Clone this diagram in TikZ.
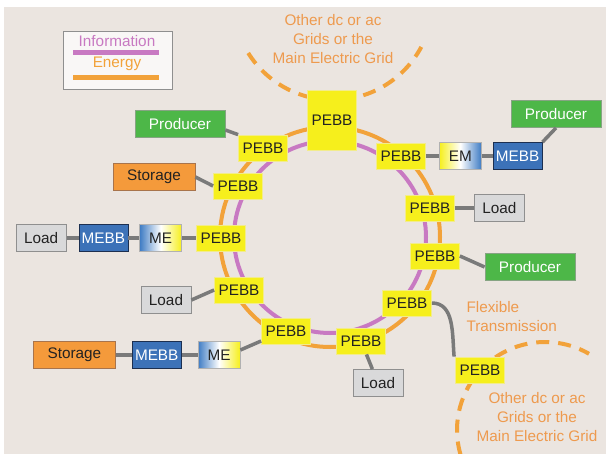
\documentclass[tikz,border=0pt]{standalone}
\usepackage{fontspec}
\setmainfont{Liberation Sans}
\usepackage{xcolor}
\usepackage{tikz}
\usetikzlibrary{shapes,arrows.meta,positioning,calc}

\definecolor{bgbeige}{HTML}{EBE5E0}
\definecolor{pebbfill}{HTML}{F6EF1C}
\definecolor{pebbline}{HTML}{F2EC8C}
\definecolor{prodgreen}{HTML}{4DB748}
\definecolor{prodline}{HTML}{86A483}
\definecolor{storfill}{HTML}{F49A3B}
\definecolor{storline}{HTML}{A8744C}
\definecolor{loadfill}{HTML}{D9D9DA}
\definecolor{loadline}{HTML}{8F8F8F}
\definecolor{mebbfill}{HTML}{3C72B8}
\definecolor{mebbline}{HTML}{1C2F50}
\definecolor{gradblue}{HTML}{3F7CC4}
\definecolor{ringorange}{HTML}{F2A23A}
\definecolor{ringpurple}{HTML}{C879C2}
\definecolor{txtorange}{HTML}{EE9A4E}
\definecolor{txtdark}{HTML}{222222}
\definecolor{linkgray}{HTML}{7A7A7A}

\begin{document}
\begin{tikzpicture}[
    x=1pt, y=-1pt,
    node distance=12pt,
    font=\fontsize{15.3}{19}\selectfont,
    box/.style={rectangle, inner sep=0pt, align=center, line width=0.8pt},
    pebb/.style={box, draw=pebbline, fill=pebbfill, text=txtdark, minimum width=49pt, minimum height=26pt},
    bigpebb/.style={pebb, minimum height=60pt},
    producer/.style={box, draw=prodline, fill=prodgreen, text=white, minimum width=90pt, minimum height=27pt},
    storage/.style={box, draw=storline, fill=storfill, text=txtdark, minimum width=82pt, minimum height=27pt},
    loadbox/.style={box, draw=loadline, fill=loadfill, text=txtdark, minimum width=50pt, minimum height=27pt},
    mebb/.style={box, draw=mebbline, fill=mebbfill, text=white, minimum width=49pt, minimum height=27pt},
    emgrad/.style={box, draw=loadline!70, left color=pebbfill, right color=gradblue, middle color=white, text=txtdark, minimum width=42pt, minimum height=27pt},
    megrad/.style={box, draw=loadline!70, left color=gradblue, right color=pebbfill, middle color=white, text=txtdark, minimum width=42pt, minimum height=27pt},
    link/.style={draw=linkgray, line width=3.5pt},
    gridline/.style={draw=ringorange, line width=4pt, dash pattern=on 13pt off 9pt},
    gridtext/.style={text=txtorange, align=center}
]
    % background
    \fill[white] (0,0) rectangle (610,454);
    \fill[bgbeige] (4,7) rectangle (606,454);
    \useasboundingbox (0,0) rectangle (610,454);

    % other grids
    \draw[gridline] plot[domain=148:28, samples=60] ({333+100*cos(\x)}, {100*sin(\x)});
    \draw[gridline] plot[domain=164:300, samples=60] ({545+88*cos(\x)}, {430+88*sin(\x)});
    \node[gridtext] (gridtop) at (333,39) {Other dc or ac\\Grids or the\\Main Electric Grid};
    \node[gridtext] (gridbot) at (537,417) {Other dc or ac\\Grids or the\\Main Electric Grid};
    \node[gridtext, align=left, anchor=west] (flex) at (463,317) {Flexible\\Transmission};

    % rings
    \draw[ringorange, line width=4pt] (330,237) circle (110);
    \draw[ringpurple, line width=4pt] (330,237) circle (96);

    % legend
    \node[box, draw=loadline, fill=white!70!bgbeige, minimum width=109pt, minimum height=58pt] (legend) at (117.5,60) {};
    \node[text=ringpurple] (infotxt) at (117,41) {Information};
    \node[text=ringorange] (energytxt) at (117,64) {Energy};
    \draw[ringpurple, line width=5pt] (73,53) -- (159,53);
    \draw[ringorange, line width=5pt] (73,78) -- (159,78);

    % PEBBs on the ring
    \node[bigpebb] (p1) at (332,120) {PEBB};
    \node[pebb] (p2) at (263,148) {PEBB};
    \node[pebb] (p3) at (238,186) {PEBB};
    \node[pebb] (p4) at (221,238) {PEBB};
    \node[pebb] (p5) at (239,290) {PEBB};
    \node[pebb] (p6) at (286,331) {PEBB};
    \node[pebb] (p7) at (361,341) {PEBB};
    \node[pebb] (p8) at (407,303) {PEBB};
    \node[pebb] (p9) at (435,256) {PEBB};
    \node[pebb] (p10) at (430,208) {PEBB};
    \node[pebb] (p11) at (401,156) {PEBB};
    \node[pebb] (p12) at (480,370) {PEBB};

    % sources and loads
    \node[emgrad, right=13pt of p11] (em) {EM};
    \node[mebb, right=11pt of em] (mebbR) {MEBB};
    \node[producer] (prodR) at (556,114) {Producer};
    \node[loadbox, right=19pt of p10] (loadR) {Load};
    \node[producer] (prodM) at (530,267) {Producer};
    \node[loadbox] (loadB) at (378,383) {Load};
    \node[producer] (prodL) at (180,124) {Producer};
    \node[storage] (storU) at (154,177) {Storage};
    \node[megrad, left=14pt of p4] (meL) {ME};
    \node[mebb, left=11pt of meL] (mebbL) {MEBB};
    \node[loadbox, left=12pt of mebbL] (loadL) {Load};
    \node[loadbox] (loadM) at (166,300) {Load};
    \node[megrad] (meB) at (219,355) {ME};
    \node[mebb, left=16pt of meB] (mebbB) {MEBB};
    \node[storage, left=16pt of mebbB] (storB) {Storage};

    % links
    \draw[link] ([yshift=-6pt]prodL.east) -- (p2.north west);
    \draw[link] (storU.east) -- (p3.west);
    \draw[link] (loadL) -- (mebbL);
    \draw[link] (mebbL) -- (meL);
    \draw[link] (meL) -- (p4);
    \draw[link] (loadM.east) -- (p5.west);
    \draw[link] (storB) -- (mebbB);
    \draw[link] (mebbB) -- (meB);
    \draw[link] ([yshift=5pt]meB.east) -- ([yshift=-10pt]p6.west);
    \draw[link] (p7) -- (loadB);
    \draw[link] (p8.east) to[out=0, in=95] ([xshift=-1pt]p12.north west);
    \draw[link] (p9.east) -- (prodM.west);
    \draw[link] (p10) -- (loadR);
    \draw[link] (p11) -- (em);
    \draw[link] (em) -- (mebbR);
    \draw[link] (mebbR.north east) -- (prodR.south);
\end{tikzpicture}
\end{document}
